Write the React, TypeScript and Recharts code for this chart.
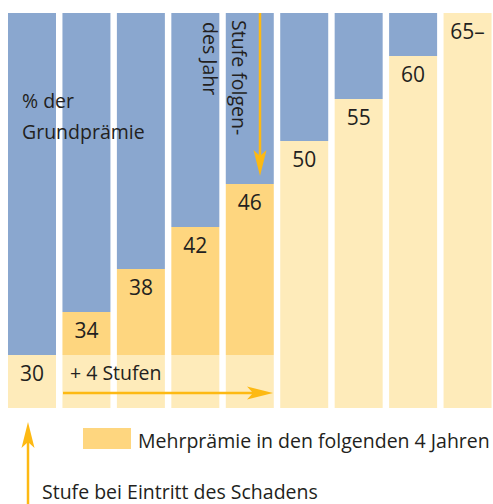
import { BarChart, Bar, XAxis, YAxis, LabelList } from 'recharts';

// Prämienstufen (Beschriftung der Säulen)
const stufen = ['30', '34', '38', '42', '46', '50', '55', '60', '65–'];
// Höhe des hellgelben Grundanteils (Skala 0–100)
const grundAnteil = [13.4, 13.4, 13.4, 13.4, 13.4, 67.6, 78.2, 89.1, 100];
// Mehrprämie in den folgenden 4 Jahren (dunkelgelb)
const mehrAnteil = [0, 10.9, 21.8, 32.4, 43.3, 0, 0, 0, 0];

const data = stufen.map((label, i) => ({
  grund: grundAnteil[i],
  mehr: mehrAnteil[i],
  rest: +(100 - grundAnteil[i] - mehrAnteil[i]).toFixed(1),
  labelGrund: mehrAnteil[i] > 0 ? '' : label,
  labelMehr: mehrAnteil[i] > 0 ? label : '',
}));

const BLUE = '#8aa7cf';
const LIGHT = '#feebba';
const DARK = '#fed67f';
const ARROW = '#fdb913';
const INK = '#231f20';
const FONT = '"Open Sans", sans-serif';

const StufeLabel = (props: any) => {
  const { x, y, width, value } = props;
  if (!value) return null;
  return (
    <text x={x + width / 2} y={y + 26} textAnchor="middle" fontSize={21} fill={INK} fontFamily={FONT}>
      {value}
    </text>
  );
};

function Annotations() {
  return (
    <svg width={493} height={504} style={{ position: 'absolute', left: 0, top: 0, pointerEvents: 'none' }}>
      <g fontFamily={FONT} fill={INK} fontSize={19.5}>
        <text x={22} y={108}>% der</text>
        <text x={22} y={139}>Grundprämie</text>
        <text transform="translate(232,20) rotate(90)">Stufe folgen-</text>
        <text transform="translate(203,22) rotate(90)">des Jahr</text>
        <text x={70} y={380}>+ 4 Stufen</text>

        {/* Pfeil nach unten */}
        <line x1={260} y1={13} x2={260} y2={156} stroke={ARROW} strokeWidth={2.5} />
        <polygon points="260,176 253.5,150 260,156 266.5,150" fill={ARROW} />

        {/* Pfeil nach rechts */}
        <line x1={63} y1={393} x2={254} y2={393} stroke={ARROW} strokeWidth={2.5} />
        <polygon points="273,393 247,386.5 253,393 247,399.5" fill={ARROW} />

        {/* Pfeil nach oben */}
        <line x1={28} y1={442} x2={28} y2={504} stroke={ARROW} strokeWidth={2.5} />
        <polygon points="28,422 21.5,448 28,442 34.5,448" fill={ARROW} />

        <rect x={83} y={428} width={48} height={21} fill={DARK} />
        <text x={138} y={448}>Mehrprämie in den folgenden 4 Jahren</text>
        <text x={42} y={499}>Stufe bei Eintritt des Schadens</text>
      </g>
    </svg>
  );
}

export default function App() {
  return (
    <div style={{ position: 'absolute', left: 0, top: 0, width: 493, height: 504, overflow: 'hidden', background: '#fff' }}>
      <BarChart
        width={495}
        height={504}
        data={data}
        margin={{ top: 13, right: 0, left: 5, bottom: 96 }}
        style={{ fontFamily: FONT }}
      >
        <XAxis hide />
        <YAxis hide domain={[0, 100]} />
        <Bar dataKey="grund" stackId="a" fill={LIGHT} barSize={48} isAnimationActive={false}>
          <LabelList dataKey="labelGrund" content={StufeLabel} />
        </Bar>
        <Bar dataKey="mehr" stackId="a" fill={DARK} barSize={48} isAnimationActive={false}>
          <LabelList dataKey="labelMehr" content={StufeLabel} />
        </Bar>
        <Bar dataKey="rest" stackId="a" fill={BLUE} barSize={48} isAnimationActive={false} />
      </BarChart>
      <Annotations />
    </div>
  );
}
